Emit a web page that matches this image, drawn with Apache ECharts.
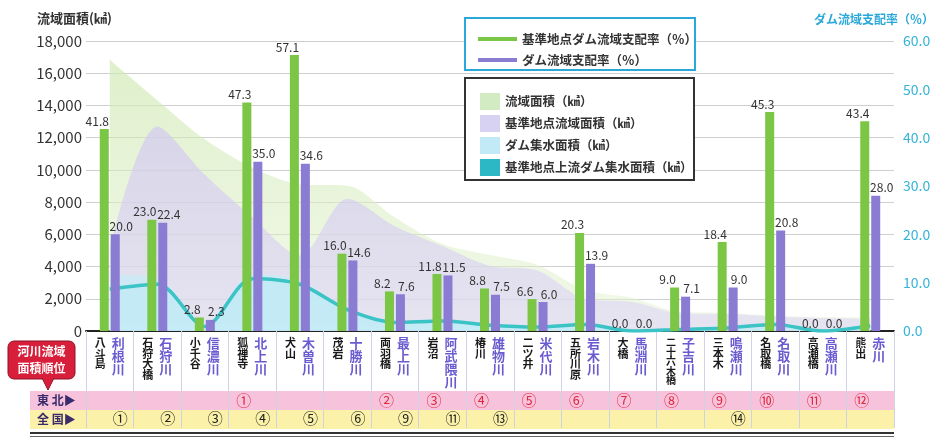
<!DOCTYPE html>
<html><head><meta charset="utf-8">
<script src="https://cdn.jsdelivr.net/npm/echarts@6/dist/echarts.min.js"></script>
<style>html,body{margin:0;padding:0;background:#fff}#c{width:942px;height:439px}</style>
</head><body><div id="c"></div>
<script>
// ---- data ----
const refPoints = ['八斗島','石狩大橋','小千谷','狐禅寺','犬山','茂岩','両羽橋','岩沼','椿川','二ツ井','五所川原','大橋','二十六木橋','三本木','名取橋','高瀬橋','熊出'];
const rivers = ['利根川','石狩川','信濃川','北上川','木曽川','十勝川','最上川','阿武隈川','雄物川','米代川','岩木川','馬淵川','子吉川','鳴瀬川','名取川','高瀬川','赤川'];
const refDamRatio = [41.8,23.0,2.8,47.3,57.1,16.0,8.2,11.8,8.8,6.6,20.3,0.0,9.0,18.4,45.3,0.0,43.4];
const damRatio = [20.0,22.4,2.3,35.0,34.6,14.6,7.6,11.5,7.5,6.0,13.9,0.0,7.1,9.0,20.8,0.0,28.0];
const basinArea = [16840,14330,11900,10150,9100,9010,7040,5400,4710,4100,2540,2050,1190,1130,940,870,860];
const refBasinArea = [5150,12700,9700,7060,4680,8210,6500,5270,4040,3750,2000,1800,1100,1050,900,800,750];
const damArea = [3500,3300,400,3550,3150,1320,540,620,350,250,350,0,90,100,200,0,240];
const refDamArea = [2600,2900,280,3250,2900,1320,530,620,360,250,400,0,100,190,410,0,330];
const rankTohoku = ['','','','①','','','②','③','④','⑤','⑥','⑦','⑧','⑨','⑩','⑪','⑫'];
const rankNational = ['①','②','③','④','⑤','⑥','⑨','⑪','⑬','','','','','⑭','','',''];
const areaAxis = {min:0, max:18000, step:2000};
const ratioAxis = {min:0, max:60, step:10};
const names = {
  refRatio:'基準地点ダム流域支配率（％）', ratio:'ダム流域支配率（％）',
  basin:'流域面積（㎢）', refBasin:'基準地点流域面積（㎢）', dam:'ダム集水面積（㎢）', refDam:'基準地点上流ダム集水面積（㎢）'
};

const FF = '"Noto Sans CJK JP","Noto Sans",sans-serif';
const vert = s => s.split('').join('\n');
const vertRef = s => s.length > 4 ? '{s|' + vert(s) + '}' : vert(s);
const chart = echarts.init(document.getElementById('c'));
const grad = (a,b) => new echarts.graphic.LinearGradient(0,0,0,1,[{offset:0,color:a},{offset:1,color:b}]);

function catAxis(data, extra){
  return Object.assign({type:'category', data:data, position:'bottom', boundaryGap:true,
    axisLine:{show:false}, axisTick:{show:false}}, extra);
}

chart.setOption({
  animation:false,
  textStyle:{fontFamily:FF},
  grid:{left:86, right:48, top:41, bottom:108},
  xAxis:[
    catAxis(refPoints,{axisLine:{show:true,lineStyle:{color:'#222',width:2}},
      axisTick:{show:true,length:97,lineStyle:{color:'#cdd3e2',width:1}},
      axisLabel:{interval:0, formatter:vertRef, align:'right', padding:[0,4,0,0], margin:7,
        fontSize:11, lineHeight:10.5, color:'#1a1a1a', fontWeight:'bold', fontFamily:FF,
        rich:{s:{fontSize:10, lineHeight:9.4, fontWeight:'bold', color:'#1a1a1a', fontFamily:FF}}}}),
    catAxis(rivers,{axisLabel:{interval:0, formatter:vert, align:'left', padding:[0,0,0,2], margin:6,
        fontSize:13, lineHeight:13, color:'#6a5cd0', fontWeight:'bold', fontFamily:FF}}),
    catAxis(rankTohoku,{axisLabel:{interval:0, align:'right', padding:[0,1,0,0], margin:62,
        fontSize:15, color:'#e0283c', fontFamily:FF}}),
    catAxis(rankNational,{axisLabel:{interval:0, align:'left', padding:[0,0,0,3], margin:80,
        fontSize:15, color:'#222', fontFamily:FF}})
  ],
  yAxis:[
    {type:'value', min:areaAxis.min, max:areaAxis.max, interval:areaAxis.step,
     axisLine:{show:false}, axisTick:{show:false},
     axisLabel:{margin:4, fontSize:15, color:'#333', fontFamily:FF,
       formatter:v=>v.toLocaleString('en-US')},
     splitLine:{lineStyle:{color:'#cfcfcf',width:1}}},
    {type:'value', min:ratioAxis.min, max:ratioAxis.max, interval:ratioAxis.step, position:'right',
     axisLine:{show:false}, axisTick:{show:false}, splitLine:{show:false},
     axisLabel:{margin:9, fontSize:14, color:'#35b3d8', fontFamily:FF, formatter:v=>v.toFixed(1)}}
  ],
  legend:[
    {data:[names.refRatio, names.ratio], orient:'vertical', left:473, top:26, icon:'rect',
     itemWidth:39, itemHeight:4, itemGap:5, selectedMode:false,
     textStyle:{fontSize:12.5, lineHeight:16, color:'#333', fontWeight:'bold', fontFamily:FF}},
    {data:[names.basin, names.refBasin, names.dam, names.refDam], orient:'vertical', left:475, top:88, icon:'rect',
     itemWidth:20, itemHeight:17, itemGap:5, selectedMode:false,
     textStyle:{fontSize:12.5, lineHeight:17, color:'#333', fontWeight:'bold', fontFamily:FF}}
  ],
  series:[
    {name:names.basin, type:'line', data:basinArea, smooth:0.3, symbol:'none', z:1,
     itemStyle:{color:'#d3ebc3'}, lineStyle:{width:0},
     areaStyle:{color:grad('rgba(206,232,176,0.95)','rgba(228,242,210,0.7)')}},
    {name:names.refBasin, type:'line', data:refBasinArea, smooth:0.3, symbol:'none', z:1,
     itemStyle:{color:'#d8d2f2'}, lineStyle:{width:0},
     areaStyle:{color:grad('rgba(208,198,242,0.95)','rgba(222,214,246,0.85)')}},
    {name:names.dam, type:'line', data:damArea, smooth:0.3, symbol:'none', z:1,
     itemStyle:{color:'#c2e9f6'}, lineStyle:{width:0},
     areaStyle:{color:'rgba(196,236,248,0.95)'}},
    {name:names.refDam, type:'line', data:refDamArea, smooth:0.3, symbol:'none', z:1,
     itemStyle:{color:'#2db8c6'}, lineStyle:{width:3.5, color:'#3cc3c6'},
     areaStyle:{color:'rgba(190,236,246,0.9)'}},
    {name:names.refRatio, type:'bar', yAxisIndex:1, data:refDamRatio, barWidth:9, barGap:'22%', z:5,
     itemStyle:{color:'#7cc646'},
     label:{show:true, position:'top', distance:2, offset:[-7,0], fontSize:12, color:'#333', fontFamily:FF,
       formatter:p=>p.value.toFixed(1)}},
    {name:names.ratio, type:'bar', yAxisIndex:1, data:damRatio, barWidth:9, barGap:'22%', z:5,
     itemStyle:{color:'#8a7bd3'},
     label:{show:true, position:'top', distance:2, offset:[6,0], fontSize:12, color:'#333', fontFamily:FF,
       formatter:p=>p.value.toFixed(1)}}
  ],
  graphic:[
    {type:'rect', z:-5, shape:{x:30,y:391,width:864,height:19}, style:{fill:'#f6c2dc'}},
    {type:'rect', z:-5, shape:{x:30,y:410,width:864,height:19}, style:{fill:'#fbf1a8'}},
    {type:'line', z:6, shape:{x1:30,y1:433,x2:894,y2:433}, style:{stroke:'#333',lineWidth:2}},
    {type:'line', z:6, shape:{x1:30,y1:436.5,x2:894,y2:436.5}, style:{stroke:'#666',lineWidth:1}},
    {type:'text', z:6, style:{x:37,y:400,text:'東 北▶',fill:'#3a2c6a',font:'bold 12px '+FF,textVerticalAlign:'middle'}},
    {type:'text', z:6, style:{x:37,y:419,text:'全 国▶',fill:'#3a2c6a',font:'bold 12px '+FF,textVerticalAlign:'middle'}},
    {type:'rect', z:6, shape:{x:8,y:341,width:67,height:38,r:6}, style:{fill:'#d71f3c',stroke:'#8e1224',lineWidth:1}},
    {type:'polygon', z:6, shape:{points:[[42,378],[54,378],[48,390]]}, style:{fill:'#d71f3c',stroke:'#8e1224',lineWidth:1}},
    {type:'rect', z:7, shape:{x:42.5,y:376,width:11,height:3}, style:{fill:'#d71f3c'}},
    {type:'text', z:8, style:{x:41.5,y:360,text:'河川流域\n面積順位',fill:'#fff',font:'bold 12px '+FF,lineHeight:17,textAlign:'center',textVerticalAlign:'middle'}},
    {type:'rect', z:3, shape:{x:465,y:18,width:230,height:52}, style:{fill:'#fff',stroke:'#2aa8dc',lineWidth:2}},
    {type:'rect', z:3, shape:{x:465,y:78,width:229,height:102}, style:{fill:'#fff',stroke:'#333',lineWidth:2}},
    {type:'text', z:6, style:{x:37,y:18,text:'流域面積(㎢)',fill:'#333',font:'bold 13px '+FF,textVerticalAlign:'middle'}},
    {type:'text', z:6, style:{x:934,y:19,text:'ダム流域支配率（％）',fill:'#2aa8d8',font:'bold 12px '+FF,textAlign:'right',textVerticalAlign:'middle'}}
  ]
});
</script>
</body></html>
